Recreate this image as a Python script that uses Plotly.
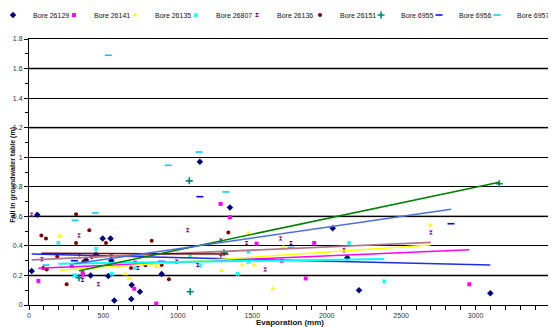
import plotly.graph_objects as go

# ---- data ----
series_names = ["Bore 26129", "Bore 26141", "Bore 26135", "Bore 26807", "Bore 26136",
                "Bore 26151", "Bore 6955", "Bore 6956", "Bore 6957"]

b26129_x = [18, 56, 383, 414, 450, 495, 533, 548, 553, 573, 687, 690, 745, 891, 1148, 1350, 2040, 2138, 2217, 3099]
b26129_y = [0.23, 0.61, 0.305, 0.20, 0.34, 0.45, 0.196, 0.45, 0.30, 0.03, 0.04, 0.135, 0.09, 0.21, 0.97, 0.66, 0.52, 0.32, 0.10, 0.08]

b26141_x = [63, 287, 360, 362, 707, 712, 855, 1287, 1350, 1529, 1697, 1859, 1916, 2958]
b26141_y = [0.163, 0.264, 0.22, 0.205, 0.11, 0.287, 0.01, 0.684, 0.594, 0.415, 0.30, 0.18, 0.42, 0.14]

b26135_x = [208, 647, 674, 857, 1085, 1294, 1433, 1475, 1513, 1641, 1708, 2696]
b26135_y = [0.467, 0.21, 0.18, 0.26, 0.33, 0.232, 0.27, 0.485, 0.27, 0.11, 0.39, 0.54]

b26807_x = [197, 305, 315, 450, 557, 712, 1081, 1148, 1401, 1475, 1475, 2150, 2387]
b26807_y = [0.42, 0.20, 0.20, 0.38, 0.21, 0.25, 0.33, 0.265, 0.21, 0.29, 0.36, 0.42, 0.16]

b26136_x = [18, 87, 190, 336, 338, 360, 466, 553, 732, 783, 992, 1066, 1133, 1289, 1289, 1462, 1587, 1690, 1760, 2116, 2700]
b26136_y = [0.61, 0.31, 0.33, 0.47, 0.33, 0.17, 0.14, 0.33, 0.25, 0.27, 0.295, 0.505, 0.27, 0.325, 0.437, 0.42, 0.24, 0.45, 0.42, 0.37, 0.49]

b26151_x = [83, 96, 114, 119, 190, 253, 316, 316, 365, 405, 421, 517, 685, 781, 824, 891, 940, 1339]
b26151_y = [0.47, 0.25, 0.45, 0.24, 0.33, 0.14, 0.614, 0.42, 0.293, 0.505, 0.325, 0.42, 0.25, 0.27, 0.435, 0.27, 0.174, 0.49]

b6955_x = [336, 1077, 1083, 1310, 3159]
b6955_y = [0.185, 0.84, 0.09, 0.354, 0.82]

b6956_x = [305, 891, 1148, 2835]
b6956_y = [0.30, 0.295, 0.733, 0.55]

b6957_x = [114, 309, 445, 533, 936, 1142, 1323, 1760]
b6957_y = [0.27, 0.573, 0.623, 1.69, 0.945, 1.035, 0.765, 0.39]

# linear trendline coefficients (slope, intercept); None = no trendline
trend_slope = [-2.43e-5, 4.35e-5, 6.85e-5, 1.41e-5, 4.39e-5, -4.0e-6, 2.124e-4, 1.454e-4, None]
trend_intercept = [0.3454, 0.2453, 0.2208, 0.2772, 0.3052, 0.3503, 0.1602, 0.2351, None]

x_ticks = [0, 500, 1000, 1500, 2000, 2500, 3000, 3500]
y_ticks = [0, 0.2, 0.4, 0.6, 0.8, 1.0, 1.2, 1.4, 1.6, 1.8]
x_title = "Evaporation (mm)"
y_title = "Fall in groundwater table (m)"

# ---- styles ----
xs = [b26129_x, b26141_x, b26135_x, b26807_x, b26136_x, b26151_x, b6955_x, b6956_x, b6957_x]
ys = [b26129_y, b26141_y, b26135_y, b26807_y, b26136_y, b26151_y, b6955_y, b6956_y, b6957_y]
marker_colors = ["#000080", "#FF00FF", "#FFFF00", "#00FFFF", "#800080", "#800000", "#008080", "#0000FF", "#00CCFF"]
marker_symbols = ["diamond", "square", "triangle-up", "x", "hourglass", "circle",
                  "cross-thin-open", "line-ew-open", "line-ew-open"]
marker_sizes = [5, 4, 5, 4, 4, 4, 5, 5, 5]
legend_ids = ["legend", "legend", "legend", "legend", "legend",
              "legend2", "legend2", "legend2", "legend2"]
legend_widths = [16, 16, 16, 16, 40, 16, 13, 13, 40]
trend_colors = ["#1a2ee6", "#FF00FF", "#FFFF00", "#00FFFF", "#B07A8C", "#800000", "#008000", "#4a6fe0", None]
trend_widths = [1.5, 1.5, 1.5, 2, 1.8, 1.5, 1.5, 1.5, 1.5]

font_family = "Liberation Sans, Arial, sans-serif"

fig = go.Figure()

for i, name in enumerate(series_names):
    open_sym = marker_symbols[i].endswith("-open")
    mk = dict(symbol=marker_symbols[i], size=marker_sizes[i], color=marker_colors[i])
    if open_sym:
        mk["line"] = dict(color=marker_colors[i], width=1.6)
    else:
        mk["line"] = dict(width=0)
    fig.add_trace(go.Scatter(x=xs[i], y=ys[i], mode="markers", name=name, marker=mk,
                             legend=legend_ids[i], legendwidth=legend_widths[i]))

for i, name in enumerate(series_names):
    if trend_slope[i] is None:
        continue
    x0, x1 = min(xs[i]), max(xs[i])
    fig.add_trace(go.Scatter(
        x=[x0, x1],
        y=[trend_intercept[i] + trend_slope[i] * x0, trend_intercept[i] + trend_slope[i] * x1],
        mode="lines", line=dict(color=trend_colors[i], width=trend_widths[i]),
        showlegend=False, hoverinfo="skip"))

# grey (anti-aliased looking) grid lines in the reference
for gy in [0.2, 0.6, 1.2, 1.6]:
    fig.add_shape(type="line", xref="paper", yref="y", x0=0, x1=1, y0=gy, y1=gy,
                  line=dict(color="#808080", width=2), layer="below")

# axis titles as annotations (positioned like the reference)
fig.add_annotation(text="<b>" + x_title + "</b>", xref="paper", yref="paper", x=0.5, y=-0.064,
                   xanchor="center", yanchor="middle", showarrow=False,
                   font=dict(size=8, color="#111"))
fig.add_annotation(text="<b>" + y_title + "</b>", xref="paper", yref="paper", x=-0.0307, y=0.49,
                   xanchor="center", yanchor="middle", showarrow=False, textangle=-90,
                   font=dict(size=7, color="#111"))

legend_style = dict(orientation="h", yanchor="middle", y=1.0902, xanchor="left",
                    font=dict(size=7, color="#111"), entrywidthmode="pixels",
                    itemwidth=30, bgcolor="rgba(0,0,0,0)", borderwidth=0)

# the page body adds an 8px offset, so the figure is 8px smaller than the window
fig.update_layout(
    width=548, height=319,
    margin=dict(l=21, r=6, t=31, b=22, autoexpand=False),
    paper_bgcolor="white", plot_bgcolor="white",
    font=dict(family=font_family, size=7, color="#222"),
    showlegend=True,
    legend=dict(legend_style, x=-0.0691),
    legend2=dict(legend_style, x=0.5202),
    xaxis=dict(range=[0, 3500], tickvals=x_ticks, ticks="outside", ticklen=4, tickcolor="black",
               showline=True, linecolor="black", linewidth=1, mirror=True, showgrid=False,
               zeroline=False, tickfont=dict(size=7, color="#333"),
               minor=dict(dtick=100, ticks="outside", ticklen=4, tickcolor="black", showgrid=False),
               automargin=False),
    yaxis=dict(range=[0, 1.8], tickvals=y_ticks, ticks="outside", ticklen=4, tickcolor="black",
               showline=True, linecolor="black", linewidth=1, mirror=True, showgrid=True,
               gridcolor="black", gridwidth=1, zeroline=False, tickfont=dict(size=7, color="#333"),
               minor=dict(dtick=0.1, ticks="outside", ticklen=3, tickcolor="black", showgrid=False),
               automargin=False),
)

fig.write_html("out.html")
